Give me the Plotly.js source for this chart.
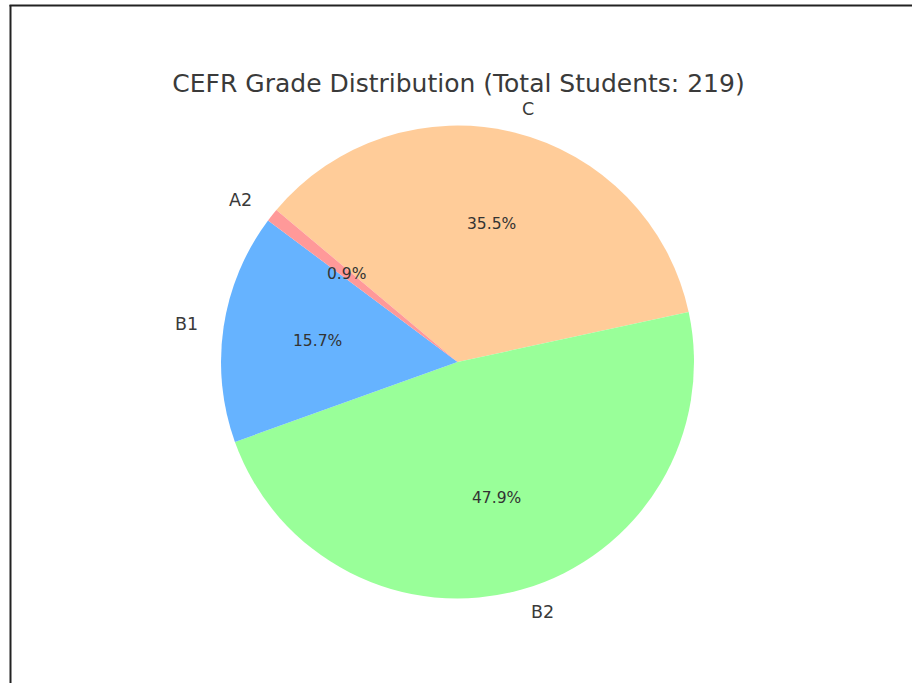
<!DOCTYPE html>
<html>
<head>
<meta charset="utf-8">
<script src="https://cdn.plot.ly/plotly-3.0.1.min.js"></script>
<style>html,body{margin:0;padding:0;background:#fff;}#chart{width:912px;height:683px;}</style>
</head>
<body>
<div id="chart"></div>
<script>
// ---- data ----
const categories = ['A2', 'B1', 'B2', 'C'];
const percentages = [0.9, 15.7, 47.9, 35.5];
const totalStudents = 219;
const sliceColors = ['#ff9999', '#66b3ff', '#99ff99', '#ffcc99'];

// ---- layout geometry ----
const W = 912, H = 683;
const cx = 457.5, cy = 362, R = 236.5;
const startAngle = 140; // degrees, counterclockwise from +x (matplotlib style)
const font = 'DejaVu Sans, sans-serif';

const total = percentages.reduce((a, b) => a + b, 0);

// Plotly draws clockwise from 12 o'clock; reproduce matplotlib's ccw order from startAngle
const rev = (a) => a.slice().reverse();
const trace = {
  type: 'pie',
  labels: rev(categories),
  values: rev(percentages),
  marker: { colors: rev(sliceColors), line: { width: 0 } },
  sort: false,
  direction: 'clockwise',
  rotation: 90 - startAngle,
  textinfo: 'none',
  hoverinfo: 'skip',
  showlegend: false,
  domain: { x: [(cx - R) / W, (cx + R) / W], y: [(H - cy - R) / H, (H - cy + R) / H] }
};

const annotations = [];
let cum = 0;
percentages.forEach((v, i) => {
  const mid = (startAngle + 360 * (cum + v / 2) / total) * Math.PI / 180;
  cum += v;
  const c = Math.cos(mid), s = Math.sin(mid);
  // outer label
  const lx = cx + 1.1 * R * c, ly = cy - 1.1 * R * s;
  annotations.push({
    xref: 'paper', yref: 'paper', x: lx / W, y: 1 - ly / H,
    text: categories[i], showarrow: false,
    xanchor: c > 0 ? 'left' : 'right', yanchor: 'middle',
    font: { family: font, size: 17.5, color: '#3a3a3a' }
  });
  // percentage
  const px = cx + 0.6 * R * c, py = cy - 0.6 * R * s;
  annotations.push({
    xref: 'paper', yref: 'paper', x: px / W, y: 1 - py / H,
    text: (v / total * 100).toFixed(1) + '%', showarrow: false,
    xanchor: 'center', yanchor: 'middle',
    font: { family: font, size: 15.5, color: '#333333' }
  });
});

const layout = {
  width: W, height: H,
  margin: { l: 0, r: 0, t: 0, b: 0 },
  paper_bgcolor: '#ffffff',
  showlegend: false,
  title: {
    text: 'CEFR Grade Distribution (Total Students: ' + totalStudents + ')',
    x: 458.5 / W, xanchor: 'center', xref: 'paper',
    y: 1 - 83 / H, yanchor: 'middle', yref: 'paper',
    font: { family: font, size: 25, color: '#3a3a3a' }
  },
  annotations: annotations,
  shapes: [
    { type: 'line', xref: 'paper', yref: 'paper', x0: 9.5 / W, x1: 1, y0: 1 - 5.5 / H, y1: 1 - 5.5 / H, line: { color: '#222', width: 2 } },
    { type: 'line', xref: 'paper', yref: 'paper', x0: 10.5 / W, x1: 10.5 / W, y0: 0, y1: 1 - 5 / H, line: { color: '#222', width: 2 } }
  ]
};

Plotly.newPlot('chart', [trace], layout, { displayModeBar: false, staticPlot: true });
</script>
</body>
</html>
